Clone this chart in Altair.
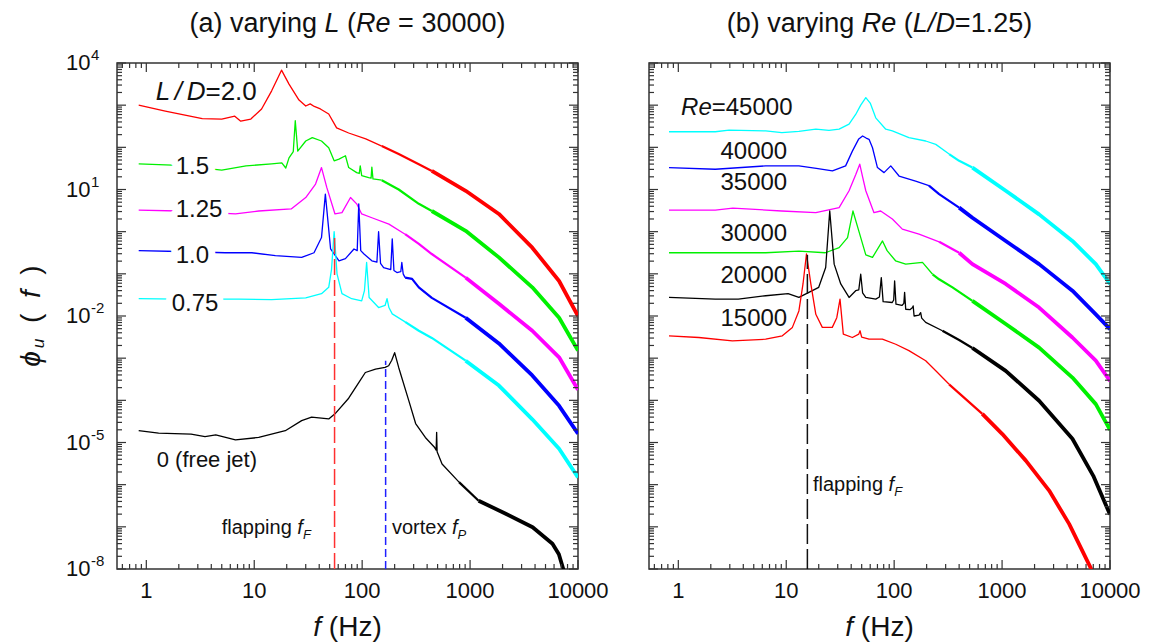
import altair as alt
import pandas as pd

FONT = "Liberation Sans"
TXT = "#111111"
TICK = "#333333"

# ---------------- axes ----------------
X_DOMAIN = [0.535, 10000]
Y_DOMAIN = [1e-8, 1e4]
X_TICKS = [1, 10, 100, 1000, 10000]
X_TICK_LABELS = ["1", "10", "100", "1000", "10000"]
Y_TICKS = [1e-8, 1e-5, 1e-2, 1e1, 1e4]
Y_TICK_EXPONENTS = ["-8", "-5", "-2", "1", "4"]
X_MINOR = [m * 10.0 ** k for k in range(-1, 4) for m in range(2, 10)]
Y_MAJOR = [10.0 ** k for k in range(-8, 5)]
Y_MINOR = [m * 10.0 ** k for k in range(-8, 4) for m in range(2, 10)]

# ---------------- panel (a): varying L/D, Re = 30000 ----------------
# values are (f in Hz, log10 phi_u)
a_red_f = [0.85, 1.5, 3.3, 5.0, 6.6, 7.5, 9.3, 11.7, 14.5, 17.9, 21, 26, 30, 33, 36, 41, 49, 58, 75, 108, 152, 218, 335, 442, 910, 1850, 3770, 6680, 10000]
a_red_lp = [3.0, 2.86, 2.68, 2.67, 2.74, 2.62, 2.67, 2.91, 3.34, 3.83, 3.50, 3.12, 2.98, 3.03, 2.97, 2.91, 2.79, 2.46, 2.34, 2.20, 2.03, 1.84, 1.60, 1.44, 0.97, 0.42, -0.38, -1.17, -2.0]

a_green_f = [0.85, 2.0, 5.0, 8.4, 14.5, 18, 19.6, 21, 23, 24, 25.3, 30, 34.5, 42, 49, 55, 61, 70, 75, 89, 94, 96, 99, 115, 121, 123, 126, 152, 218, 335, 442, 910, 1850, 3770, 6680, 10000]
a_green_lp = [1.61, 1.57, 1.46, 1.56, 1.61, 1.63, 1.51, 1.75, 1.9, 2.63, 1.91, 2.15, 2.23, 2.15, 1.99, 1.68, 1.72, 1.80, 1.52, 1.40, 1.38, 1.56, 1.33, 1.28, 1.27, 1.53, 1.25, 1.22, 1.0, 0.66, 0.49, 0.02, -0.61, -1.32, -2.04, -2.82]

a_mag_f = [0.85, 2.0, 6.7, 11, 22, 30, 37, 42, 47, 56, 65, 78, 89, 99, 123, 177, 250, 335, 442, 910, 1850, 3770, 6680, 10000]
a_mag_lp = [0.51, 0.49, 0.42, 0.49, 0.54, 0.81, 1.13, 1.52, 1.05, 0.42, 0.45, 0.81, 0.66, 0.42, 0.33, 0.18, -0.06, -0.29, -0.53, -1.09, -1.71, -2.35, -2.98, -3.75]

a_blue_f = [0.85, 2.0, 5.4, 9.5, 15.7, 27.5, 35.8, 42, 45.6, 51, 61, 70, 84, 90, 93, 97, 104, 123, 137, 142, 148, 158, 184, 190, 197, 210, 228, 233, 240, 250, 290, 335, 442, 910, 1850, 3770, 6680, 10000]
a_blue_lp = [-0.45, -0.47, -0.5, -0.5, -0.57, -0.61, -0.5, -0.14, 0.89, -0.41, -0.69, -0.64, -0.41, -0.45, 0.66, -0.45, -0.53, -0.69, -0.72, 0.0, -0.75, -0.85, -0.9, -0.17, -0.92, -0.97, -0.95, -0.73, -1.0, -1.09, -1.12, -1.32, -1.57, -2.04, -2.65, -3.41, -4.13, -4.79]

a_cyan_f = [0.85, 2.0, 7.2, 14.5, 30, 42, 49, 52, 55, 58.5, 65, 80, 99, 105, 110, 116, 142, 163, 170, 177, 190, 250, 335, 442, 910, 1850, 3770, 6680, 10000]
a_cyan_lp = [-1.59, -1.6, -1.6, -1.61, -1.57, -1.47, -1.32, -0.9, 0.0, -1.0, -1.47, -1.59, -1.64, -1.4, -0.73, -1.56, -1.8, -1.75, -1.59, -1.8, -1.95, -2.14, -2.35, -2.52, -3.06, -3.65, -4.45, -5.15, -5.83]

a_black_f = [0.85, 1.3, 2.6, 3.5, 4.4, 6.7, 11, 19.4, 27.5, 34, 49, 56, 75, 93, 107, 133, 163, 176, 188, 200, 218, 270, 313, 385, 470, 485, 490, 495, 550, 790, 1200, 2140, 3800, 5800, 6650, 7500]
a_black_lp = [-4.72, -4.78, -4.80, -4.86, -4.82, -4.94, -4.88, -4.72, -4.48, -4.40, -4.44, -4.32, -3.95, -3.58, -3.34, -3.26, -3.22, -3.18, -3.05, -2.87, -3.22, -4.0, -4.55, -4.88, -5.12, -5.18, -4.76, -5.22, -5.51, -5.94, -6.38, -6.69, -7.01, -7.40, -7.65, -8.1]

# dashed markers (f, top log10 phi)
a_flap_f, a_flap_top = 55.5, -0.03
a_vort_f, a_vort_top = 165, -3.06

# ---------------- panel (b): varying Re, L/D = 1.25 ----------------
b_cyan_f = [0.82, 2.2, 2.95, 6.45, 9.1, 13.1, 18.8, 24.9, 30.9, 38.2, 44, 49, 54.6, 60, 67.5, 83.6, 96.2, 137, 196, 243, 323, 400, 531, 1081, 2203, 4484, 7387, 10000]
b_cyan_lp = [2.37, 2.37, 2.41, 2.39, 2.35, 2.38, 2.43, 2.40, 2.43, 2.55, 2.78, 3.0, 3.18, 3.05, 2.70, 2.43, 2.39, 2.23, 2.15, 2.07, 1.84, 1.68, 1.52, 0.97, 0.41, -0.22, -0.77, -1.24]

b_blue_f = [0.82, 2.2, 6.45, 13.1, 19, 26.8, 35.5, 41, 47, 51, 55, 58.5, 63, 70, 80.6, 93, 111, 158, 210, 261, 400, 531, 1081, 2203, 4484, 7387, 10000]
b_blue_lp = [1.52, 1.48, 1.56, 1.56, 1.50, 1.44, 1.56, 1.91, 2.2, 2.27, 2.22, 2.19, 1.99, 1.52, 1.40, 1.56, 1.32, 1.20, 1.09, 0.89, 0.57, 0.33, -0.22, -0.77, -1.40, -1.96, -2.31]

b_mag_f = [0.82, 2.2, 3.2, 9.1, 18.8, 30.9, 38.2, 44, 48, 51, 54.6, 65, 75, 96.2, 119, 170, 261, 400, 531, 1081, 2203, 4484, 7387, 10000]
b_mag_lp = [0.51, 0.51, 0.56, 0.49, 0.45, 0.57, 0.97, 1.35, 1.60, 1.3, 0.97, 0.45, 0.49, 0.30, 0.06, -0.06, -0.24, -0.50, -0.77, -1.24, -1.80, -2.51, -3.06, -3.54]

b_green_f = [0.82, 2.2, 6.45, 13.1, 23, 30.9, 37, 41.5, 47, 54.6, 63, 78, 86, 103, 128, 183, 227, 261, 347, 531, 1081, 2203, 4484, 7387, 10000]
b_green_lp = [-0.50, -0.50, -0.50, -0.46, -0.50, -0.38, -0.14, 0.49, 0.02, -0.55, -0.61, -0.22, -0.45, -0.69, -0.77, -0.73, -1.01, -1.13, -1.32, -1.64, -2.19, -2.75, -3.46, -4.09, -4.70]

b_black_f = [0.82, 2.2, 3.6, 6.45, 10.4, 13.1, 16.2, 20, 23.2, 25.3, 27.8, 32, 38.2, 44, 47, 49, 51, 54.6, 67.5, 73, 76, 79, 96, 99, 101, 104, 118, 123, 125, 128, 140, 148, 150, 153, 170, 176, 180, 196, 280, 400, 531, 1081, 2203, 4484, 7000, 10000]
b_black_lp = [-1.56, -1.60, -1.60, -1.52, -1.47, -1.56, -1.44, -1.32, -0.85, 0.49, -0.77, -1.24, -1.56, -1.40, -1.38, -1.01, -1.45, -1.56, -1.60, -1.55, -1.09, -1.66, -1.68, -1.62, -1.17, -1.72, -1.75, -1.7, -1.44, -1.84, -1.85, -1.80, -1.76, -2.0, -1.98, -1.92, -2.05, -2.15, -2.35, -2.57, -2.76, -3.30, -4.01, -4.91, -5.79, -6.71]

b_red_f = [0.82, 1.55, 3.17, 6.45, 9.2, 11.4, 13.1, 14.3, 15.4, 16.9, 18.8, 21.6, 26.7, 29.4, 31.5, 33.8, 41, 47, 48.3, 50, 58.5, 77.8, 103.5, 137, 196, 243, 323, 656, 1006, 1660, 2730, 4180, 6640, 7500]
b_red_lp = [-2.47, -2.51, -2.59, -2.55, -2.47, -2.27, -1.88, -1.24, -0.53, -1.24, -1.96, -2.27, -2.27, -2.04, -1.60, -2.43, -2.51, -2.43, -2.35, -2.5, -2.55, -2.55, -2.67, -2.82, -3.06, -3.30, -3.62, -4.32, -4.80, -5.43, -6.14, -6.93, -7.98, -8.3]

b_flap_f, b_flap_top = 15.7, -0.55

COLORS = {"red": "#ff0000", "green": "#00f000", "magenta": "#ff00ff",
          "blue": "#0000ff", "cyan": "#00ffff", "black": "#000000"}
WIDTHS = [1.3, 2.2, 3.8]

PW, PH = 461, 506


def xs():
    return alt.Scale(type="log", domain=X_DOMAIN, nice=False)


def ys():
    return alt.Scale(type="log", domain=Y_DOMAIN, nice=False)


def build(series):
    rows = []
    for name, f, lp, b1, b2 in series:
        segs = [[], [], []]
        for fi, li in zip(f, lp):
            k = 0 if fi < b1 else (1 if fi < b2 else 2)
            segs[k].append((fi, 10.0 ** li))
        ne = [k for k in range(3) if segs[k]]
        for a, b in zip(ne, ne[1:]):
            segs[a].append(segs[b][0])
        for k in ne:
            for fi, phi in segs[k]:
                rows.append(dict(series=name, key=f"{name}-{k}", f=fi, phi=phi, w=WIDTHS[k]))
    return pd.DataFrame(rows)


def lines(df):
    names = list(dict.fromkeys(df["series"]))
    return alt.Chart(df).mark_line(clip=True, strokeJoin="round").encode(
        x=alt.X("f:Q", scale=xs(), axis=None),
        y=alt.Y("phi:Q", scale=ys(), axis=None),
        color=alt.Color("series:N", scale=alt.Scale(domain=names, range=[COLORS[n] for n in names]), legend=None),
        detail="key:N",
        strokeWidth=alt.StrokeWidth("w:Q", scale=None),
        order=alt.Order("f:Q"),
    )


def dashed(f, top, color, dash):
    d = pd.DataFrame({"f": [f], "lo": [Y_DOMAIN[0]], "hi": [10.0 ** top]})
    return alt.Chart(d).mark_rule(color=color, strokeDash=dash, strokeWidth=1.5).encode(
        x=alt.X("f:Q", scale=xs(), axis=None),
        y=alt.Y("lo:Q", scale=ys(), axis=None),
        y2="hi:Q",
    )


def ticks():
    out = []
    xmin = [v for v in X_MINOR if X_DOMAIN[0] <= v <= X_DOMAIN[1]]
    for vals, L in ((X_TICKS, 9), (xmin, 5)):
        base = alt.Chart(pd.DataFrame({"v": vals})).mark_rule(color=TICK, strokeWidth=1.2)
        xe = alt.X("v:Q", scale=xs(), axis=None)
        out.append(base.encode(x=xe, y=alt.value(PH), y2=alt.value(PH - L)))
        out.append(base.encode(x=xe, y=alt.value(0), y2=alt.value(L)))
    for vals, L in ((Y_MAJOR, 9), (Y_MINOR, 5)):
        base = alt.Chart(pd.DataFrame({"v": vals})).mark_rule(color=TICK, strokeWidth=1.2)
        ye = alt.Y("v:Q", scale=ys(), axis=None)
        out.append(base.encode(y=ye, x=alt.value(0), x2=alt.value(L)))
        out.append(base.encode(y=ye, x=alt.value(PW), x2=alt.value(PW - L)))
    return out


def tick_labels(with_y):
    out = [alt.Chart(pd.DataFrame({"v": X_TICKS, "lab": X_TICK_LABELS})).mark_text(
        font=FONT, fontSize=22, color=TXT, align="center", baseline="middle").encode(
        x=alt.X("v:Q", scale=xs(), axis=None), y=alt.value(PH + 22), text="lab:N")]
    if with_y:
        d = pd.DataFrame({"v": Y_TICKS, "e": Y_TICK_EXPONENTS})
        ye = alt.Y("v:Q", scale=ys(), axis=None)
        out.append(alt.Chart(d).mark_text(text="10", font=FONT, fontSize=22, color=TXT, align="left",
                                          baseline="middle").encode(y=ye, x=alt.value(-51)))
        out.append(alt.Chart(d).mark_text(font=FONT, fontSize=15, color=TXT, align="left",
                                          baseline="middle", dy=-8).encode(y=ye, x=alt.value(-26), text="e:N"))
    return out


TS = "\u2009"
AW = {' ': 278, TS: 180, '(': 333, ')': 333, 'a': 556, 'b': 556, 'v': 500, 'r': 333, 'y': 500,
      'i': 222, 'n': 556, 'g': 556, 'L': 556, 'R': 722, 'e': 556, '=': 584, '/': 278, 'D': 722, '.': 278,
      'f': 278, 'l': 222, 'p': 556, 'o': 556, 't': 278, 'x': 500, 'j': 222, 'H': 722, 'z': 500,
      'F': 611, 'P': 667, 'u': 556, 'ϕ': 660}


def tw(s, size):
    return sum(AW.get(c, 556) for c in s) * size / 1000.0


def rich(segs, size, anchor, align="left", baseline="middle", angle=0, halo=False):
    segs = [(s[0], s[1], 1.0, 0) if len(s) == 2 else tuple(s) for s in segs]
    ws = [tw(t, size * sc) for (t, it, sc, dy) in segs]
    tot = sum(ws)
    off = {"left": 0.0, "center": -tot / 2, "right": -tot}[align]
    if anchor[0] == "data":
        src = pd.DataFrame({"f": [anchor[1]], "phi": [10.0 ** anchor[2]]})
        enc = dict(x=alt.X("f:Q", scale=xs(), axis=None), y=alt.Y("phi:Q", scale=ys(), axis=None))
    else:
        src = pd.DataFrame({"k": [0]})
        enc = dict(x=alt.value(anchor[1]), y=alt.value(anchor[2]))
    under, over = [], []
    for (t, it, sc, dy), w in zip(segs, ws):
        core = t.strip(" " + TS)
        lead = t[: len(t) - len(t.lstrip(" " + TS))]
        kw = dict(text=core, align="left", baseline=baseline, dx=off + tw(lead, size * sc), dy=dy,
                  fontSize=size * sc, font=FONT, fontStyle="italic" if it else "normal", angle=angle)
        if halo:
            under.append(alt.Chart(src).mark_text(color="white", stroke="white", strokeWidth=14,
                                                  strokeJoin="round", **kw).encode(**enc))
        over.append(alt.Chart(src).mark_text(color=TXT, **kw).encode(**enc))
        off += w
    return under + over


# ---------------- panel (a) ----------------
df_a = build([
    ("red", a_red_f, a_red_lp, 150, 400),
    ("green", a_green_f, a_green_lp, 150, 400),
    ("magenta", a_mag_f, a_mag_lp, 200, 450),
    ("blue", a_blue_f, a_blue_lp, 250, 450),
    ("cyan", a_cyan_f, a_cyan_lp, 250, 450),
    ("black", a_black_f, a_black_lp, 600, 1100),
])

layers_a = [lines(df_a),
            dashed(a_flap_f, a_flap_top, "#ff3030", [16, 5]),
            dashed(a_vort_f, a_vort_top, "#2020ff", [8, 4])]
layers_a += ticks()
layers_a += tick_labels(True)
layers_a += rich([("L", True), (TS + "/", True), (TS + "D", True), ("=2.0", False)], 26, ("data", 1.22, 3.31))
layers_a += rich([("1.5", False)], 24, ("data", 1.87, 1.535), halo=True)
layers_a += rich([("1.25", False)], 24, ("data", 1.87, 0.517), halo=True)
layers_a += rich([("1.0", False)], 24, ("data", 1.87, -0.573), halo=True)
layers_a += rich([("0.75", False)], 24, ("data", 1.72, -1.71), halo=True)
layers_a += rich([("0 (free jet)", False)], 22, ("data", 1.25, -5.41))
layers_a += rich([("flapping", False), (" f", True), ("F", True, 0.65, 5)], 20, ("data", 5.0, -7.16), baseline="alphabetic")
layers_a += rich([("vortex", False), (" f", True), ("P", True, 0.65, 5)], 20, ("data", 189, -7.16), baseline="alphabetic")
layers_a += rich([("(a) varying", False), (" L", True), (" (", False), ("Re", True), (" = 30000)", False)], 27,
                 ("px", PW / 2, -31), align="center", baseline="alphabetic")
layers_a += rich([("f", True), (" (Hz)", False)], 28, ("px", PW / 2, PH + 67), align="center", baseline="alphabetic")
layers_a += rich([("ϕ", True), ("u", True, 0.62, 7), ("  (", False), ("  f", True), ("  )", False)], 28,
                 ("px", -85, PH / 2), align="center", baseline="middle", angle=270)

left = alt.layer(*layers_a).properties(width=PW, height=PH)

# ---------------- panel (b) ----------------
df_b = build([
    ("cyan", b_cyan_f, b_cyan_lp, 250, 450),
    ("blue", b_blue_f, b_blue_lp, 200, 400),
    ("magenta", b_mag_f, b_mag_lp, 200, 400),
    ("green", b_green_f, b_green_lp, 200, 400),
    ("black", b_black_f, b_black_lp, 250, 450),
    ("red", b_red_f, b_red_lp, 250, 600),
])

layers_b = [lines(df_b), dashed(b_flap_f, b_flap_top, "#111111", [20, 5])]
layers_b += ticks()
layers_b += tick_labels(False)
layers_b += rich([("Re", True), ("=45000", False)], 24, ("data", 1.06, 2.93))
for lab, lp in (("40000", 1.90), ("35000", 1.163), ("30000", -0.052), ("20000", -1.047), ("15000", -2.07)):
    layers_b += rich([(lab, False)], 24, ("data", 10.2, lp), align="right")
layers_b += rich([("flapping", False), (" f", True), ("F", True, 0.65, 5)], 20, ("data", 17.7, -6.14), baseline="alphabetic")
layers_b += rich([("(b) varying", False), (" Re", True), (" (", False), ("L/D", True), ("=1.25)", False)], 27,
                 ("px", PW / 2, -31), align="center", baseline="alphabetic")
layers_b += rich([("f", True), (" (Hz)", False)], 28, ("px", PW / 2, PH + 67), align="center", baseline="alphabetic")

right = alt.layer(*layers_b).properties(width=PW, height=PH)

chart = alt.hconcat(left, right, spacing=71, bounds="flush").properties(
    padding={"left": 17, "top": 9, "right": 0, "bottom": 0}, background="white"
).configure_view(stroke="#333333", strokeWidth=1.5)

chart.save("out.html", embed_options={"renderer": "svg", "actions": False})
